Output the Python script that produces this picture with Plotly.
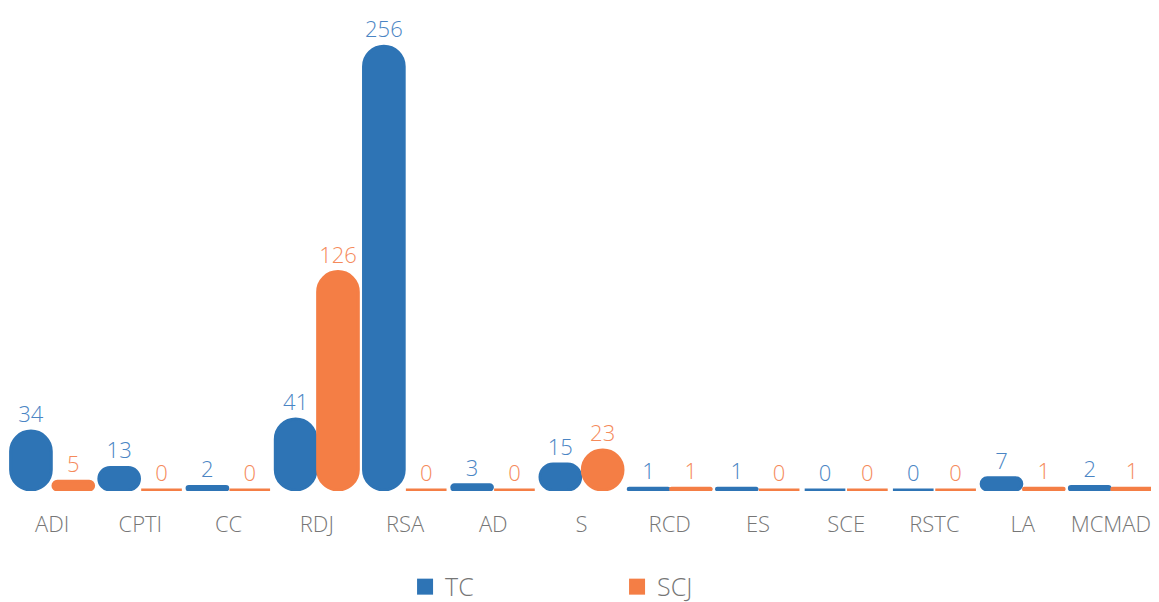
import plotly.graph_objects as go

categories = ["ADI", "CPTI", "CC", "RDJ", "RSA", "AD", "S", "RCD", "ES", "SCE", "RSTC", "LA", "MCMAD"]
tc_values = [34, 13, 2, 41, 256, 3, 15, 1, 1, 0, 0, 7, 2]
scj_values = [5, 0, 0, 126, 0, 0, 23, 1, 0, 0, 0, 1, 1]
series_names = ["TC", "SCJ"]

BLUE = "#2E74B5"
ORANGE = "#F47E45"
BLUE_TXT = "#4A85C4"
ORANGE_TXT = "#F58A5B"
GRAY = "#767676"
FONT = "Open Sans"

fig = go.Figure()

def add_series(name, vals, color, txtcolor):
    fig.add_trace(go.Bar(
        x=categories, y=vals, base=[0] * len(vals), name=name,
        marker=dict(color=color, line=dict(color=color, width=3)),
        text=[str(v) for v in vals], textposition="outside",
        textfont=dict(family=FONT, size=22, color=txtcolor, weight=300),
        cliponaxis=False, hoverinfo="skip", showlegend=False,
    ))

add_series(series_names[0], tc_values, BLUE, BLUE_TXT)
add_series(series_names[1], scj_values, ORANGE, ORANGE_TXT)

# legend entries with square swatches
for name, color in zip(series_names, [BLUE, ORANGE]):
    fig.add_trace(go.Scatter(
        x=[None], y=[None], mode="markers", name=name,
        marker=dict(symbol="square", size=16, color=color),
        showlegend=True, hoverinfo="skip",
    ))

fig.update_layout(
    width=1159, height=602,
    margin=dict(l=0, r=12, t=33, b=114),
    paper_bgcolor="white", plot_bgcolor="white",
    barmode="group", bargap=0.04, bargroupgap=0.04,
    barcornerradius="50%",
    font=dict(family=FONT, color=GRAY),
    xaxis=dict(showgrid=False, showline=False, zeroline=False, ticks="",
               ticklabelstandoff=18,
               tickfont=dict(family=FONT, size=22, color=GRAY, weight=300)),
    yaxis=dict(visible=False, range=[-0.6, 259]),
    legend=dict(orientation="h", x=0.531, xanchor="center", y=-0.162, yanchor="top",
                font=dict(family=FONT, size=25, color=GRAY, weight=300),
                entrywidth=167, itemwidth=30, itemsizing="trace"),
)

fig.write_html("out.html")
